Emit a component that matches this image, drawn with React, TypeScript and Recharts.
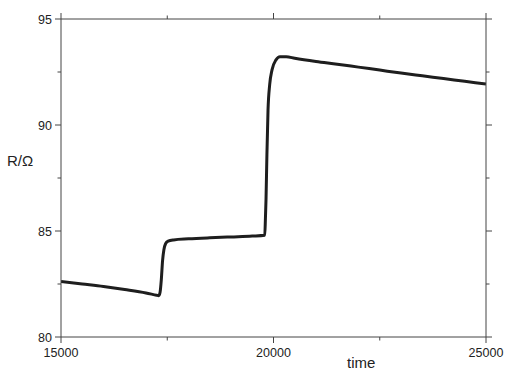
import { LineChart, Line, XAxis, YAxis } from 'recharts';

const timeValues = [
    15000, 15500, 16000, 16500, 17000, 17250, 17300, 17330, 17360, 17390, 17420, 17460, 17520, 17650,
    18000, 18500, 19000, 19500, 19795, 19810, 19824, 19845, 19871, 19910, 19965, 20059, 20153, 20300,
    20500, 21000, 21500, 22000, 22500, 23000, 23500, 24000, 24500, 25000,
];
const resistance = [
    82.62, 82.5, 82.38, 82.24, 82.08, 81.97, 81.95, 82.1, 82.7, 83.6, 84.1, 84.4, 84.52, 84.58,
    84.63, 84.68, 84.72, 84.76, 84.8, 85.6, 86.5, 88.6, 90.7, 91.9, 92.6, 93.07, 93.22, 93.22,
    93.15, 93.0, 92.87, 92.73, 92.59, 92.45, 92.32, 92.19, 92.06, 91.93,
];
const xTicks = [15000, 17500, 20000, 22500, 25000];
const yTicks = [80, 82.5, 85, 87.5, 90, 92.5, 95];

const data = timeValues.map((t, i) => ({ time: t, R: resistance[i] }));

const AXIS = '#444';
const FONT = '"Liberation Sans", Arial, sans-serif';

type Side = 'bottom' | 'top' | 'left' | 'right';

function makeTick(side: Side, labels: boolean) {
    return (props: any) => {
        const { x, y, payload } = props;
        const v = payload.value as number;
        const major = side === 'bottom' || side === 'top' ? v % 5000 === 0 : v % 5 === 0;
        const len = major ? 6 : 3.5;
        let line;
        if (side === 'bottom') line = <line x1={x} x2={x} y1={y} y2={y + len} stroke={AXIS} />;
        else if (side === 'top') line = <line x1={x} x2={x} y1={y} y2={y - len} stroke={AXIS} />;
        else if (side === 'left') line = <line x1={x} x2={x - len} y1={y} y2={y} stroke={AXIS} />;
        else line = <line x1={x} x2={x + len} y1={y} y2={y} stroke={AXIS} />;
        return (
            <g>
                {line}
                {labels && major && side === 'bottom' && (
                    <text x={x} y={y + 20} textAnchor="middle" fontSize={12.5} fontFamily={FONT} fill="#222">
                        {v}
                    </text>
                )}
                {labels && major && side === 'left' && (
                    <text x={x - 9} y={y + 4.5} textAnchor="end" fontSize={12.5} fontFamily={FONT} fill="#222">
                        {v}
                    </text>
                )}
            </g>
        );
    };
}

export default function App() {
    return (
        <div style={{ position: 'absolute', left: 0, top: 0, width: 505, height: 370, background: '#fff' }}>
            <LineChart width={505} height={370} data={data} margin={{ top: 0, right: 0, left: 0, bottom: 0 }}>
                <XAxis
                    xAxisId="bottom"
                    dataKey="time"
                    type="number"
                    domain={[15000, 25000]}
                    ticks={xTicks}
                    interval={0}
                    height={33}
                    tickSize={0}
                    tickMargin={0}
                    tickLine={false}
                    axisLine={{ stroke: AXIS }}
                    tick={makeTick('bottom', true)}
                    allowDataOverflow
                />
                <XAxis
                    xAxisId="top"
                    orientation="top"
                    dataKey="time"
                    type="number"
                    domain={[15000, 25000]}
                    ticks={xTicks}
                    interval={0}
                    height={19}
                    tickSize={0}
                    tickMargin={0}
                    tickLine={false}
                    axisLine={{ stroke: AXIS }}
                    tick={makeTick('top', false)}
                    allowDataOverflow
                />
                <YAxis
                    yAxisId="left"
                    type="number"
                    domain={[80, 95]}
                    ticks={yTicks}
                    interval={0}
                    width={61}
                    tickSize={0}
                    tickMargin={0}
                    tickLine={false}
                    axisLine={{ stroke: AXIS }}
                    tick={makeTick('left', true)}
                    allowDataOverflow
                />
                <YAxis
                    yAxisId="right"
                    orientation="right"
                    type="number"
                    domain={[80, 95]}
                    ticks={yTicks}
                    interval={0}
                    width={19}
                    tickSize={0}
                    tickMargin={0}
                    tickLine={false}
                    axisLine={{ stroke: AXIS }}
                    tick={makeTick('right', false)}
                    allowDataOverflow
                />
                <Line
                    xAxisId="bottom"
                    yAxisId="left"
                    type="monotone"
                    dataKey="R"
                    stroke="#1e1e1e"
                    strokeWidth={3}
                    dot={false}
                    activeDot={false}
                    isAnimationActive={false}
                />
            </LineChart>
            <div style={{ position: 'absolute', left: 7, top: 152, fontFamily: FONT, fontSize: 15, color: '#222', lineHeight: '18px' }}>
                R/Ω
            </div>
            <div style={{ position: 'absolute', left: 347, top: 354, fontFamily: FONT, fontSize: 15, color: '#222', lineHeight: '18px' }}>
                time
            </div>
        </div>
    );
}
